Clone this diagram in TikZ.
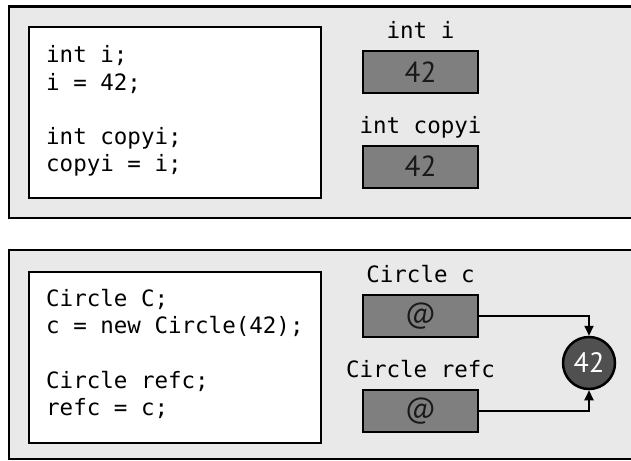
\documentclass[tikz,border=0pt]{standalone}
\usepackage{fontspec}
\newfontfamily\codefont{DejaVu Sans Mono}
\newfontfamily\valfont{PT Sans}
\usetikzlibrary{positioning,arrows.meta}
\definecolor{panelgray}{HTML}{E9E9E9}
\definecolor{valgray}{HTML}{7F7F7F}
\definecolor{objgray}{HTML}{505050}

\begin{document}
\begin{tikzpicture}[x=1pt,y=-1pt,>={Triangle[length=10pt,width=9pt]},
	panel/.style={draw,fill=panelgray,line width=2.4pt,anchor=north west,inner sep=0pt,minimum width=640pt},
	codebox/.style={draw,fill=white,line width=2.4pt,anchor=north west,inner sep=0pt,minimum width=292pt,minimum height=171pt},
	codeline/.style={anchor=base west,inner sep=0pt,font=\codefont\fontsize{22.5}{27}\selectfont},
	varlabel/.style={anchor=base,inner sep=0pt,font=\codefont\fontsize{22.5}{27}\selectfont},
	valbox/.style={draw,fill=valgray,line width=2pt,minimum width=115pt,minimum height=42pt,inner sep=0pt,font=\valfont\fontsize{29}{29}\selectfont,text=black!90},
	objnode/.style={circle,draw,fill=objgray,line width=2.5pt,minimum size=52pt,inner sep=0pt,font=\valfont\fontsize{28}{28}\selectfont,text=white},
	refarrow/.style={->,line width=2pt}]
	\useasboundingbox[fill=white] (0,0) rectangle (631,460);
	\clip (0,0) rectangle (631,460);

	% primitive copy
	\node[panel,minimum height=211pt] (toppanel) at (8,5.5) {};
	\node[codebox] (topcode) at (28,26) {};
	\node[codeline] (l1) at (46,63) {int i;};
	\node[codeline] (l2) at (46,90) {i = 42;};
	\node[codeline] (l3) at (46,144) {int copyi;};
	\node[codeline] (l4) at (46,171) {copyi = i;};

	\node[valbox] (vi) at (420.5,72) {42};
	\node[valbox] (vcopyi) at (420.5,166.5) {42};
	\node[varlabel] (li) at ([yshift=11pt]vi.north) {int i};
	\node[varlabel] (lcopyi) at ([yshift=11pt]vcopyi.north) {int copyi};

	% reference copy
	\node[panel,minimum height=209.5pt] (botpanel) at (8,248.5) {};
	\node[codebox] (botcode) at (28,271) {};
	\node[codeline] (m1) at (46,306) {Circle C;};
	\node[codeline] (m2) at (46,333) {c = new Circle(42);};
	\node[codeline] (m3) at (46,388) {Circle refc;};
	\node[codeline] (m4) at (46,415) {refc = c;};

	\node[valbox] (rc) at (420.5,316) {@};
	\node[valbox] (rrefc) at (420.5,411) {@};
	\node[varlabel] (lc) at ([yshift=12pt]rc.north) {Circle c};
	\node[varlabel] (lrefc) at ([yshift=12pt]rrefc.north) {Circle refc};

	\node[objnode] (obj) at (589,363) {42};
	\draw[refarrow] (rc.east) -| (obj.north);
	\draw[refarrow] (rrefc.east) -| (obj.south);
\end{tikzpicture}
\end{document}
